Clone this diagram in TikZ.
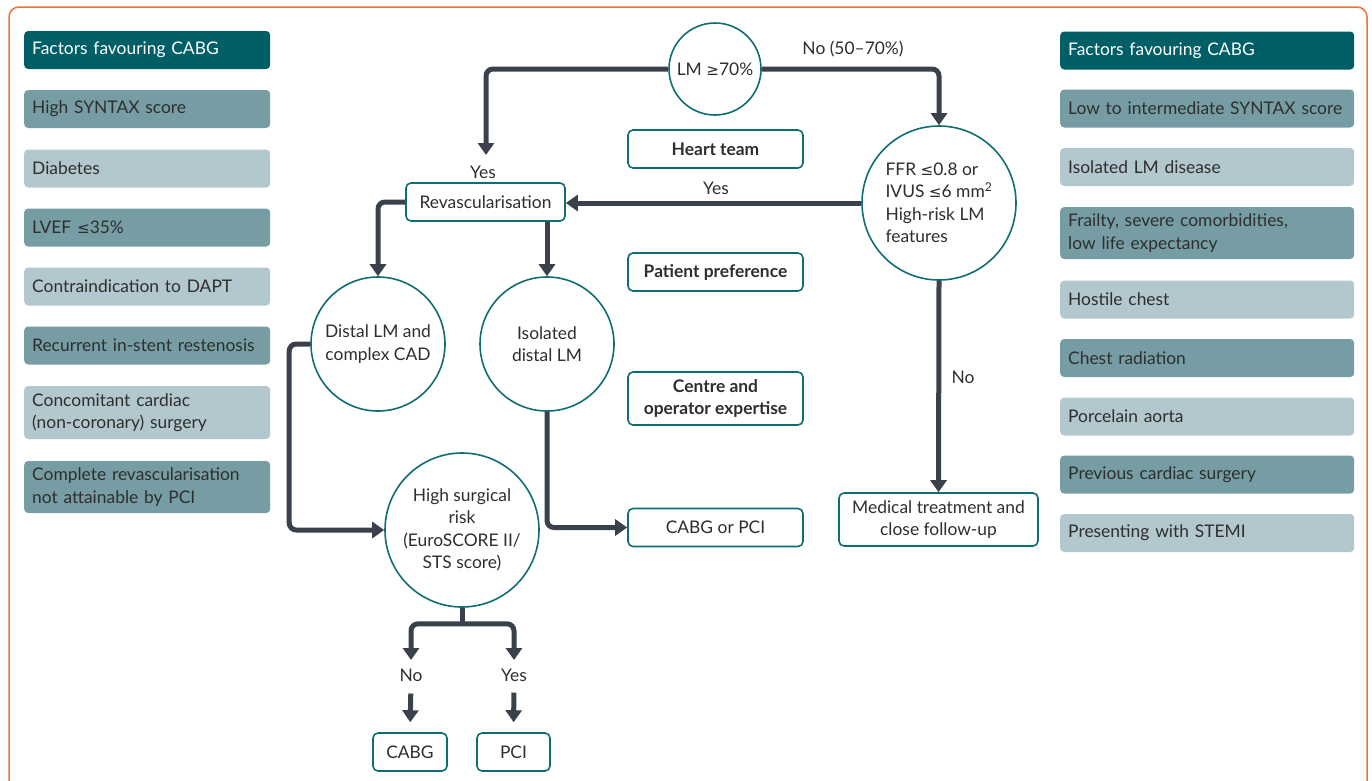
\documentclass[tikz,border=0pt]{standalone}
\usepackage{fontspec}
\setmainfont{Lato}
\newfontfamily\symfont{DejaVu Sans}
\usetikzlibrary{arrows.meta}

\definecolor{tealdark}{HTML}{005F66}
\definecolor{tealmid}{HTML}{769DA4}
\definecolor{teallight}{HTML}{B3C7CE}
\definecolor{tealline}{HTML}{106E73}
\definecolor{arrowc}{HTML}{3B414C}
\definecolor{ink}{HTML}{2E2E2E}
\definecolor{framec}{HTML}{E8743B}

\newcommand{\fsz}{\fontsize{17.4}{22.5}\selectfont}
\newcommand{\lesign}{{\symfont\fontsize{15.2}{22.5}\selectfont ≤}}
\newcommand{\gesign}{{\symfont\fontsize{15.2}{22.5}\selectfont ≥}}

\begin{document}
\begin{tikzpicture}[
    x=1pt, y=-1pt,
    txt/.style={font=\fsz, text=ink},
    fact/.style={txt, anchor=west, rounded corners=4pt, align=left, inner xsep=8pt, inner ysep=2pt, minimum height=38pt},
    hdr/.style={fact, fill=tealdark, text=white},
    mid/.style={fact, fill=tealmid},
    pale/.style={fact, fill=teallight},
    fbox/.style={txt, draw=tealline, line width=1.6pt, rounded corners=5pt, fill=white, align=center, minimum height=38pt, inner sep=2pt},
    strong/.style={fbox, font=\fsz\bfseries},
    circ/.style={txt, circle, draw=tealline, line width=1.6pt, fill=white, inner sep=0pt, align=center},
    flow/.style={draw=arrowc, line width=5pt, rounded corners=7pt, -{Triangle[width=16pt,length=12pt]}},
    lab/.style={txt, inner sep=1pt}
]
    \useasboundingbox (0,0) rectangle (1372,780);
    \draw[framec, line width=1.5pt, rounded corners=10pt] (9,790) -- (9,7) -- (1367,7) -- (1367,790);

    % Left factors
    \begin{scope}[nodes={text width=230pt}]
    \node[hdr] (l0) at (24,50) {Factors favouring CABG};
    \node[mid] (l1) at (24,109) {High SYNTAX score};
    \node[pale] (l2) at (24,168.5) {Diabetes};
    \node[mid] (l3) at (24,227.5) {LVEF \lesign35\%};
    \node[pale] (l4) at (24,286.5) {Contraindication to DAPT};
    \node[mid] (l5) at (24,345.5) {Recurrent in-stent restenosis};
    \node[pale, minimum height=53pt] (l6) at (24,412.5) {Concomitant cardiac\\(non-coronary) surgery};
    \node[mid, minimum height=52pt] (l7) at (24,487) {Complete revascularisation\\not attainable by PCI};
    \end{scope}

    % Right factors
    \begin{scope}[nodes={text width=278pt}]
    \node[hdr] (r0) at (1060,50.5) {Factors favouring CABG};
    \node[mid] (r1) at (1060,108.5) {Low to intermediate SYNTAX score};
    \node[pale] (r2) at (1060,167) {Isolated LM disease};
    \node[mid, minimum height=52pt] (r3) at (1060,233) {Frailty, severe comorbidities,\\low life expectancy};
    \node[pale] (r4) at (1060,299.5) {Hostile chest};
    \node[mid] (r5) at (1060,358) {Chest radiation};
    \node[pale] (r6) at (1060,416.5) {Porcelain aorta};
    \node[mid] (r7) at (1060,474.5) {Previous cardiac surgery};
    \node[pale] (r8) at (1060,533) {Presenting with STEMI};
    \end{scope}

    % Flowchart
    \node[circ, minimum size=92pt] (lm) at (715,69) {LM \gesign70\%};
    \node[circ, minimum size=154pt, align=left] (ffr) at (939,203) {FFR \lesign0.8 or\\IVUS \lesign6 mm\textsuperscript{2}\\High-risk LM\\features};
    \node[fbox, minimum width=159pt] (rev) at (485.5,202) {Revascularisation};
    \node[strong, minimum width=175pt] (ht) at (715.5,149) {Heart team};
    \node[strong, minimum width=175pt] (pp) at (715.5,272) {Patient preference};
    \node[strong, minimum width=175pt, minimum height=53pt] (coe) at (715.5,398.5) {Centre and\\operator expertise};
    \node[fbox, minimum width=175pt] (cp) at (715.5,527.5) {CABG or PCI};
    \node[fbox, minimum width=199pt, minimum height=53pt] (med) at (938.5,519.5) {Medical treatment and\\close follow-up};
    \node[circ, minimum size=134pt] (dist) at (378,344) {Distal LM and\\complex CAD};
    \node[circ, minimum size=134pt] (iso) at (547,344) {Isolated\\distal LM};
    \node[circ, minimum size=154pt] (hsr) at (462,530) {High surgical\\risk\\(EuroSCORE II/\\STS score)};
    \node[fbox, minimum width=74pt] (cabg) at (410,752) {CABG};
    \node[fbox, minimum width=73pt] (pci) at (513.5,752) {PCI};

    % Labels
    \node[lab] (yes1) at (483,172) {Yes};
    \node[lab] (no1) at (853,49) {No (50--70\%)};
    \node[lab] (yes2) at (716,188) {Yes};
    \node[lab] (no2) at (963,377) {No};
    \node[lab] (no3) at (411,675) {No};
    \node[lab] (yes3) at (514,675) {Yes};

    % Connectors
    \coordinate (revin) at (486,155);
    \coordinate (noin) at (411,660);
    \coordinate (yesin) at (514,660);
    \draw[flow] (lm.west) -| (revin);
    \draw[flow] (lm.east) -| (ffr.north);
    \draw[flow] (ffr.west) -- (ffr.west -| rev.east);
    \draw[flow] (ffr.south) -- (med.north);
    \draw[flow] (rev.west) -| (dist.north);
    \draw[flow] (rev.south -| iso.north) -- (iso.north);
    \draw[flow] (dist.west) -- ++(-21,0) |- (hsr.west);
    \draw[flow] (iso.south) |- (cp.west);
    \draw[draw=arrowc, line width=5pt] (hsr.south) -- ++(0,16) coordinate (fork);
    \draw[flow] (fork) -| (noin);
    \draw[flow] (fork) -| (yesin);
    \draw[flow, shorten <=11pt, shorten >=10pt] (no3.south) -- (cabg.north);
    \draw[flow, shorten <=10pt, shorten >=10pt] (yes3.south) -- (pci.north);
\end{tikzpicture}
\end{document}
